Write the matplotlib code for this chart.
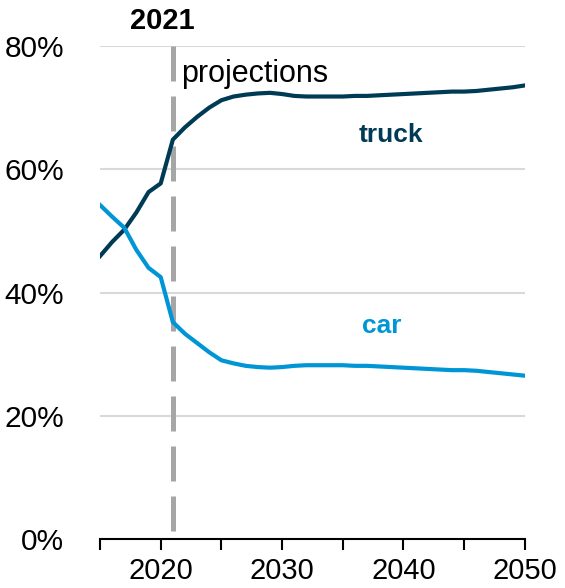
import matplotlib
matplotlib.use("Agg")
import matplotlib.pyplot as plt
import numpy as np

plt.rcParams['font.family'] = ['Liberation Sans', 'DejaVu Sans']

# Anteil Neuzulassungen, Prozent
years = list(range(2015, 2051))
truck = [45.9, 48.2, 50.2, 53.0, 56.3, 57.7, 64.8, 66.8, 68.5, 70.0,
         71.2, 71.8, 72.1, 72.3, 72.4, 72.2, 71.9, 71.8, 71.8, 71.8,
         71.8, 71.9, 71.9, 72.0, 72.1, 72.2, 72.3, 72.4, 72.5, 72.6,
         72.6, 72.7, 72.9, 73.1, 73.3, 73.6]
car = [54.2, 52.3, 50.5, 46.9, 44.0, 42.5, 35.2, 33.3, 31.8, 30.3,
       29.0, 28.5, 28.1, 27.9, 27.8, 27.9, 28.1, 28.2, 28.2, 28.2,
       28.2, 28.1, 28.1, 28.0, 27.9, 27.8, 27.7, 27.6, 27.5, 27.4,
       27.4, 27.3, 27.1, 26.9, 26.7, 26.5]
split_year = 2021

c_truck = '#003B55'
c_car = '#0096D6'

fig = plt.figure(figsize=(5.65, 5.88), dpi=100)
ax = fig.add_axes([0.177, 0.0833, 0.752, 0.8385])

ax.set_xlim(2015, 2050)
ax.set_ylim(0, 80)

# Gitter
for v in [20, 40, 60, 80]:
    ax.axhline(v, color='#D9D9D9', lw=1.5, zorder=1)

ax.plot([split_year, split_year], [80, 0], color='#A6A6A6', lw=3.6,
        linestyle=(0, (7, 3)), zorder=2, clip_on=False)

ax.plot(years, truck, color=c_truck, lw=3, zorder=3)
ax.plot(years, car, color=c_car, lw=3, zorder=3)

ax.text(2021.7, 75.5, 'projections', fontsize=22, ha='left', va='center')
ax.text(2020.1, 84.0, '2021', fontsize=21, fontweight='bold',
        ha='center', va='center')
ax.text(2039.0, 65.5, 'truck', fontsize=19, fontweight='bold',
        color=c_truck, ha='center', va='center')
ax.text(2038.2, 34.5, 'car', fontsize=19, fontweight='bold',
        color=c_car, ha='center', va='center')

for s in ['left', 'right', 'top']:
    ax.spines[s].set_visible(False)
ax.spines['bottom'].set_linewidth(1.5)
ax.spines['bottom'].set_zorder(4)

ax.set_xticks(range(2015, 2051, 5))
ax.set_xticklabels([str(y) if y % 10 == 0 else '' for y in range(2015, 2051, 5)])
ax.tick_params(axis='x', direction='out', length=8, width=1.5, pad=5,
               labelsize=21)
ax.set_yticks([0, 20, 40, 60, 80])
ax.set_yticklabels(['0%', '20%', '40%', '60%', '80%'])
ax.tick_params(axis='y', length=0, pad=26, labelsize=21.5)

fig.savefig('out.png', dpi=100)
